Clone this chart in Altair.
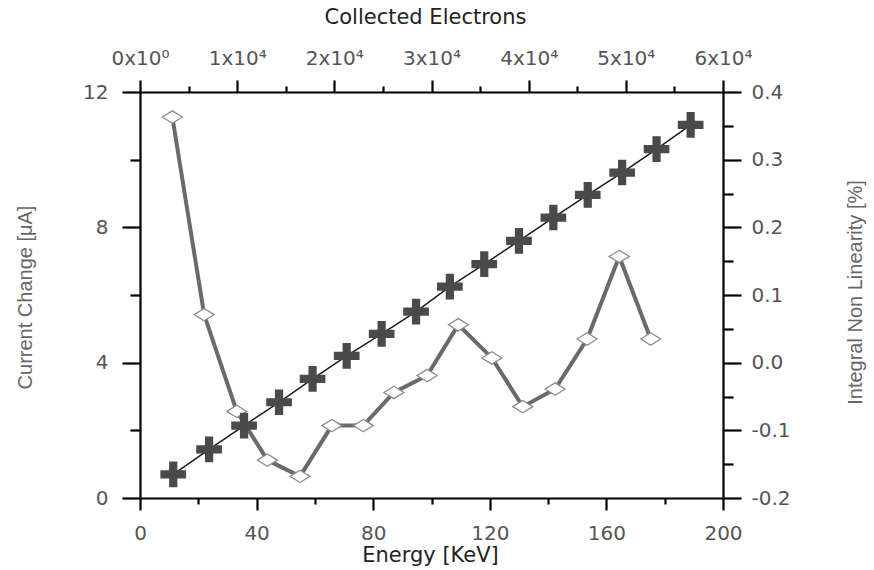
import altair as alt
import pandas as pd

# ---- data ----
energy_cross = [11.4, 23.7, 35.7, 47.7, 59.2, 70.9, 82.9, 94.7, 106.3, 118.1, 130.0, 141.8, 153.6, 165.4, 177.2, 188.9]
current_change = [0.70, 1.44, 2.14, 2.83, 3.52, 4.20, 4.85, 5.51, 6.25, 6.91, 7.60, 8.29, 8.96, 9.62, 10.31, 11.03]

energy_diamond = [11.1, 22.0, 33.2, 43.7, 54.9, 65.8, 76.6, 87.1, 98.5, 109.2, 120.7, 131.3, 142.4, 153.4, 164.4, 175.2]
inl = [0.363, 0.071, -0.072, -0.144, -0.168, -0.093, -0.093, -0.044, -0.019, 0.056, 0.007, -0.065, -0.039, 0.035, 0.157, 0.035]

energy_ticks = [0, 20, 40, 60, 80, 100, 120, 140, 160, 180, 200]
current_ticks = [0, 2, 4, 6, 8, 10, 12]
inl_ticks = [-0.2, -0.15, -0.1, -0.05, 0.0, 0.05, 0.1, 0.15, 0.2, 0.25, 0.3, 0.35, 0.4]
electron_ticks = [0, 5000, 10000, 15000, 20000, 25000, 30000, 35000, 40000, 45000, 50000, 55000, 60000]

cross_df = pd.DataFrame({"energy": energy_cross, "current": current_change})
dia_df = pd.DataFrame({"energy": energy_diamond, "inl": inl})
top_df = pd.DataFrame({"electrons": [electron_ticks[0], electron_ticks[-1]]})

LABEL_FONT = "DejaVu Sans"
LABEL_COLOR = "#555555"

common_axis = dict(
    grid=False,
    domainColor="black",
    domainWidth=2.2,
    tickColor="black",
    tickWidth=2.2,
    labelFont=LABEL_FONT,
    labelFontSize=20,
    labelColor=LABEL_COLOR,
    labelFlush=False,
    labelOverlap=False,
    labelBound=False,
    titleFontWeight="normal",
)

x_energy = alt.X(
    "energy:Q",
    scale=alt.Scale(domain=[0, 200], nice=False, zero=False),
    axis=alt.Axis(
        orient="bottom",
        values=energy_ticks,
        labelExpr="datum.value % 40 == 0 ? datum.label : ''",
        tickSize={"condition": {"test": "datum.value % 40 == 0", "value": 12}, "value": 6},
        labelPadding=13,
        title="Energy [KeV]",
        titleFont=LABEL_FONT,
        titleFontSize=21,
        titleColor="#222222",
        titleX=290,
        titleY=57,
        titleBaseline="middle",
        **common_axis,
    ),
)

y_current = alt.Y(
    "current:Q",
    scale=alt.Scale(domain=[0, 12], nice=False, zero=False),
    axis=alt.Axis(
        orient="left",
        values=current_ticks,
        labelExpr="datum.value % 4 == 0 ? datum.label : ''",
        tickSize={"condition": {"test": "datum.value % 4 == 0", "value": 18}, "value": 10},
        labelPadding=14,
        title="Current Change [μA]",
        titleFont="Liberation Sans",
        titleFontSize=20,
        titleColor="#666666",
        titleAngle=270,
        titleX=-115,
        titleY=205,
        titleBaseline="middle",
        titleAlign="center",
        **common_axis,
    ),
)

y_inl = alt.Y(
    "inl:Q",
    scale=alt.Scale(domain=[-0.2, 0.4], nice=False, zero=False),
    axis=alt.Axis(
        orient="right",
        values=inl_ticks,
        labelExpr="abs(datum.value*10 - round(datum.value*10)) < 0.01 ? replace(format(datum.value, '.1f'), '\u2212', '-') : ''",
        tickSize={"condition": {"test": "abs(datum.value*10 - round(datum.value*10)) < 0.01", "value": 18}, "value": 10},
        labelPadding=10,
        title="Integral Non Linearity [%]",
        titleFont="Liberation Sans",
        titleFontSize=20,
        titleColor="#666666",
        titleAngle=270,
        titleX=132,
        titleY=200,
        titleBaseline="middle",
        titleAlign="center",
        **common_axis,
    ),
)

x_top = alt.X(
    "electrons:Q",
    scale=alt.Scale(domain=[electron_ticks[0], electron_ticks[-1]], nice=False, zero=False),
    axis=alt.Axis(
        orient="top",
        values=electron_ticks,
        labelExpr="datum.value == 0 ? '0x10\u2070' : (datum.value % 10000 == 0 ? format(datum.value/10000, 'd') + 'x10\u2074' : '')",
        tickSize={"condition": {"test": "datum.value % 10000 == 0", "value": 12}, "value": 6},
        labelPadding=12,
        title="Collected Electrons",
        titleFont=LABEL_FONT,
        titleFontSize=21,
        titleColor="#222222",
        titleX=285,
        titleY=-75,
        titleBaseline="middle",
        **common_axis,
    ),
)

CROSS = "M-1,-0.32H-0.32V-1H0.32V-0.32H1V0.32H0.32V1H-0.32V0.32H-1Z"
DIAMOND = "M-1,0L0,-0.62L1,0L0,0.62Z"

cross_line = alt.Chart(cross_df).mark_line(color="#1a1a1a", strokeWidth=1.5).encode(x=x_energy, y=y_current)
cross_pts = alt.Chart(cross_df).mark_point(
    shape=CROSS, filled=True, size=660, color="#4a4a4a", opacity=1
).encode(x=x_energy, y=y_current)

dia_line = alt.Chart(dia_df).mark_line(color="#6a6a6a", strokeWidth=4).encode(x=x_energy, y=y_inl)
dia_pts = alt.Chart(dia_df).mark_point(
    shape=DIAMOND, filled=True, fill="white", stroke="#8c8c8c", strokeWidth=1.3, size=400, opacity=1
).encode(x=x_energy, y=y_inl)

left = alt.layer(cross_line, cross_pts)
right = alt.layer(dia_line, dia_pts)
inner = alt.layer(right, left).resolve_scale(y="independent")

top = alt.Chart(top_df).mark_point(opacity=0).encode(x=x_top, y=alt.value(0))

chart = (
    alt.layer(inner, top)
    .resolve_scale(x="independent", y="independent")
    .properties(
        width=583,
        height=406,
        autosize=alt.AutoSizeParams(type="none"),
        padding={"left": 140, "top": 92, "right": 151, "bottom": 72},
        background="white",
    )
    .configure_view(stroke=None)
)

chart.save("out.html", embed_options={"renderer": "svg", "actions": False})
